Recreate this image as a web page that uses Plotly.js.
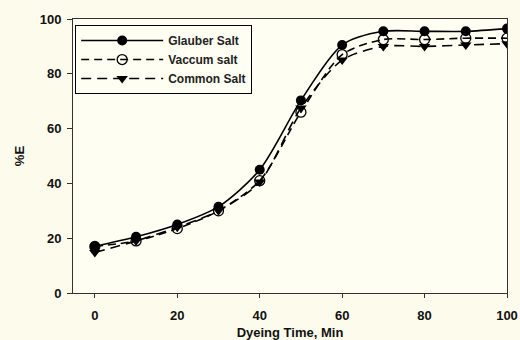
<!DOCTYPE html>
<html><head><meta charset="utf-8">
<script src="https://cdn.plot.ly/plotly-3.0.1.min.js"></script>
<style>html,body{margin:0;padding:0;background:#fdfcec;}#c{width:520px;height:340px;}</style>
</head><body><div id="c"></div>
<script>
const time = [0, 10, 20, 30, 40, 50, 60, 70, 80, 90, 100];
const glauber = [17, 20.5, 25, 31.5, 45, 70.3, 90.5, 95.5, 95.5, 95.5, 96.5];
const vaccum = [17, 19, 23.5, 30, 41, 66, 87, 92.5, 92.5, 93, 93];
const common = [14.8, 19, 24, 30, 40.5, 67.5, 85, 90, 90, 90.5, 91];
const xTicks = [0, 20, 40, 60, 80, 100];
const yTicks = [0, 20, 40, 60, 80, 100];

const base = {type:'scatter', mode:'lines+markers', x: time, line:{shape:'spline', smoothing:0.8, color:'#000', width:1.6}};
const traces = [
  Object.assign({}, base, {name:'Glauber Salt', y: glauber, line:Object.assign({}, base.line), marker:{symbol:'circle', size:10, color:'#000'}}),
  Object.assign({}, base, {name:'Vaccum salt', y: vaccum, line:Object.assign({}, base.line, {dash:'8px,5px'}), marker:{symbol:'circle-open', size:10, color:'#000', line:{width:1.3, color:'#000'}}}),
  Object.assign({}, base, {name:'Common Salt', y: common, line:Object.assign({}, base.line, {dash:'10px,6px'}), marker:{symbol:'triangle-down', size:10, color:'#000'}})
];
const fam = 'Liberation Sans, Arial, sans-serif';
const layout = {
  width:520, height:340,
  margin:{l:73, r:13, t:19, b:47},
  paper_bgcolor:'#fdfcec', plot_bgcolor:'#fffef2',
  font: {family:fam, size:12, color:'#111'},
  showlegend:true,
  legend:{x:0.005, y:0.978, xanchor:'left', yanchor:'top', bgcolor:'rgba(0,0,0,0)', bordercolor:'#000', borderwidth:1,
    font:{family:fam, size:12, color:'#222', weight:'bold'}, tracegroupgap:0, itemwidth:82},
  xaxis:{range:[-5.3, 100], tickvals:xTicks, ticktext:xTicks.map(String), showgrid:false, zeroline:false,
    showline:true, linecolor:'#333', linewidth:1, mirror:true, ticks:'outside', ticklen:4, tickcolor:'#333',
    ticklabelstandoff:6,
    tickfont:{family:fam, size:13, weight:'bold', color:'#111'},
    title:{text:'Dyeing Time, Min', standoff:6, font:{family:fam, size:13, weight:'bold', color:'#111'}}},
  yaxis:{range:[0, 100], tickvals:yTicks, ticktext:yTicks.map(String), showgrid:false, zeroline:false,
    showline:true, linecolor:'#333', linewidth:1, mirror:true, ticks:'outside', ticklen:5, tickcolor:'#333',
    ticklabelstandoff:3,
    tickfont:{family:fam, size:13, weight:'bold', color:'#111'},
    title:{text:'%E', standoff:12, font:{family:fam, size:13, weight:'bold', color:'#111'}}}
};
Plotly.newPlot('c', traces, layout, {displayModeBar:false, staticPlot:true});
</script></body></html>
